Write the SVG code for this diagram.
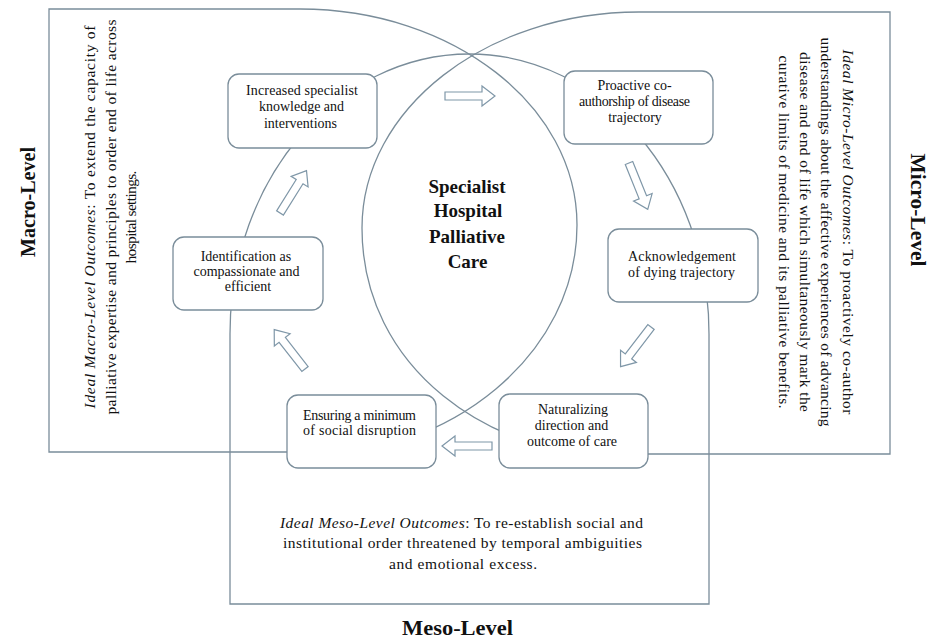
<svg xmlns="http://www.w3.org/2000/svg" xmlns:xlink="http://www.w3.org/1999/xlink" width="930" height="639" viewBox="0 0 930 639">
<style>
.ln{fill:none;stroke:#7a8d9a;stroke-width:1.3}
.box{fill:#fff;stroke:#7a8d9a;stroke-width:1.3}
.t{font-family:"Liberation Serif","Times New Roman",serif;font-size:14px;fill:#111;text-anchor:middle}
.s{font-size:15.5px}
.b{font-family:"Liberation Serif","Times New Roman",serif;font-weight:bold;fill:#111;text-anchor:middle}
.i{font-style:italic}
</style>
<defs>
<path id="arr" d="M0,-4 H37 V-10 L50,0 L37,10 V4 H0 Z" fill="#fff" stroke="#7f97a8" stroke-width="1.2" stroke-linejoin="miter"/>
</defs>
<rect width="930" height="639" fill="#fff"/>

<g id="macro-level">
<path class="ln" d="M300,452 H49 V9 H300 C453,9 577,106 577,225 C577,353 453,457 300,457"/>
<text class="b" font-size="22" textLength="110" lengthAdjust="spacingAndGlyphs" transform="translate(35,202) rotate(-90)">Macro-Level</text>
<g transform="translate(95,217) rotate(-90)">
<text class="t s" x="0" y="0" textLength="383" lengthAdjust="spacing"><tspan class="i">Ideal Macro-Level Outcomes</tspan>: To extend the capacity of</text>
<text class="t s" x="0" y="20.5" textLength="395" lengthAdjust="spacing">palliative expertise and principles to order end of life across</text>
<text class="t s" x="0" y="41" textLength="93" lengthAdjust="spacing">hospital settings.</text>
</g>
</g>

<g id="micro-level">
<path class="ln" d="M639,454 H890 V12 H639 C486,12 362,109 362,228 C362,366 486,460 639,460"/>
<text class="b" font-size="22" textLength="113" lengthAdjust="spacingAndGlyphs" transform="translate(911,210) rotate(90)">Micro-Level</text>
<g transform="translate(842.5,232) rotate(90)">
<text class="t s" x="0" y="0" textLength="365" lengthAdjust="spacing"><tspan class="i">Ideal Micro-Level Outcomes</tspan>: To proactively co-author</text>
<text class="t s" x="0" y="21.3" textLength="389" lengthAdjust="spacing">understandings about the affective experiences of advancing</text>
<text class="t s" x="0" y="42.6" textLength="360" lengthAdjust="spacing">disease and end of life which simultaneously mark the</text>
<text class="t s" x="0" y="63.9" textLength="353" lengthAdjust="spacing">curative limits of medicine and its palliative benefits.</text>
</g>
</g>

<g id="meso-level">
<path class="ln" d="M230,604 H709 V334 C709,179.4 601.7,54 469.5,54 C337.3,54 230,179.4 230,334 Z"/>
<text class="b" font-size="22" x="457.5" y="635" textLength="111" lengthAdjust="spacingAndGlyphs">Meso-Level</text>
<text class="t s" x="461.5" y="527.5" textLength="363" lengthAdjust="spacing"><tspan class="i">Ideal Meso-Level Outcomes</tspan>: To re-establish social and</text>
<text class="t s" x="462.5" y="548" textLength="359" lengthAdjust="spacing">institutional order threatened by temporal ambiguities</text>
<text class="t s" x="463" y="568.5" textLength="148" lengthAdjust="spacing">and emotional excess.</text>
</g>

<g id="core">
<text class="b" font-size="19" x="467" y="193">Specialist</text>
<text class="b" font-size="19" x="468" y="217">Hospital</text>
<text class="b" font-size="19" x="467" y="243">Palliative</text>
<text class="b" font-size="19" x="467.5" y="268">Care</text>
</g>

<g id="connectors">
<use xlink:href="#arr" transform="translate(445,96)"/>
<use xlink:href="#arr" transform="translate(629,163) rotate(68)"/>
<use xlink:href="#arr" transform="translate(651,327) rotate(127.5)"/>
<use xlink:href="#arr" transform="translate(492,446) rotate(180)"/>
<use xlink:href="#arr" transform="translate(305,369) rotate(-128)"/>
<use xlink:href="#arr" transform="translate(280,213) rotate(-58)"/>
</g>

<g id="node-increased">
<rect class="box" x="228" y="74" width="149" height="74" rx="11"/>
<text class="t" x="302" y="95" textLength="112" lengthAdjust="spacing">Increased specialist</text>
<text class="t" x="301.5" y="111">knowledge and</text>
<text class="t" x="300.5" y="128">interventions</text>
</g>

<g id="node-proactive">
<rect class="box" x="564" y="71" width="149" height="73" rx="11"/>
<text class="t" x="634.5" y="90">Proactive co-</text>
<text class="t" x="634.5" y="106" textLength="111" lengthAdjust="spacing">authorship of disease</text>
<text class="t" x="635" y="122">trajectory</text>
</g>

<g id="node-acknowledgement">
<rect class="box" x="608" y="229" width="150" height="73" rx="11"/>
<text class="t" x="682" y="261" textLength="108" lengthAdjust="spacing">Acknowledgement</text>
<text class="t" x="681.5" y="277" textLength="107" lengthAdjust="spacing">of dying trajectory</text>
</g>

<g id="node-naturalizing">
<rect class="box" x="499" y="394" width="149" height="74" rx="11"/>
<text class="t" x="573" y="414">Naturalizing</text>
<text class="t" x="571.5" y="430">direction and</text>
<text class="t" x="572" y="446">outcome of care</text>
</g>

<g id="node-ensuring">
<rect class="box" x="287" y="395" width="149" height="73" rx="11"/>
<text class="t" x="359.5" y="420" textLength="113" lengthAdjust="spacing">Ensuring a minimum</text>
<text class="t" x="359.5" y="435" textLength="113" lengthAdjust="spacing">of social disruption</text>
</g>

<g id="node-identification">
<rect class="box" x="173" y="237" width="150" height="73" rx="11"/>
<text class="t" x="246" y="261">Identification as</text>
<text class="t" x="246.5" y="276">compassionate and</text>
<text class="t" x="248" y="291">efficient</text>
</g>
</svg>
